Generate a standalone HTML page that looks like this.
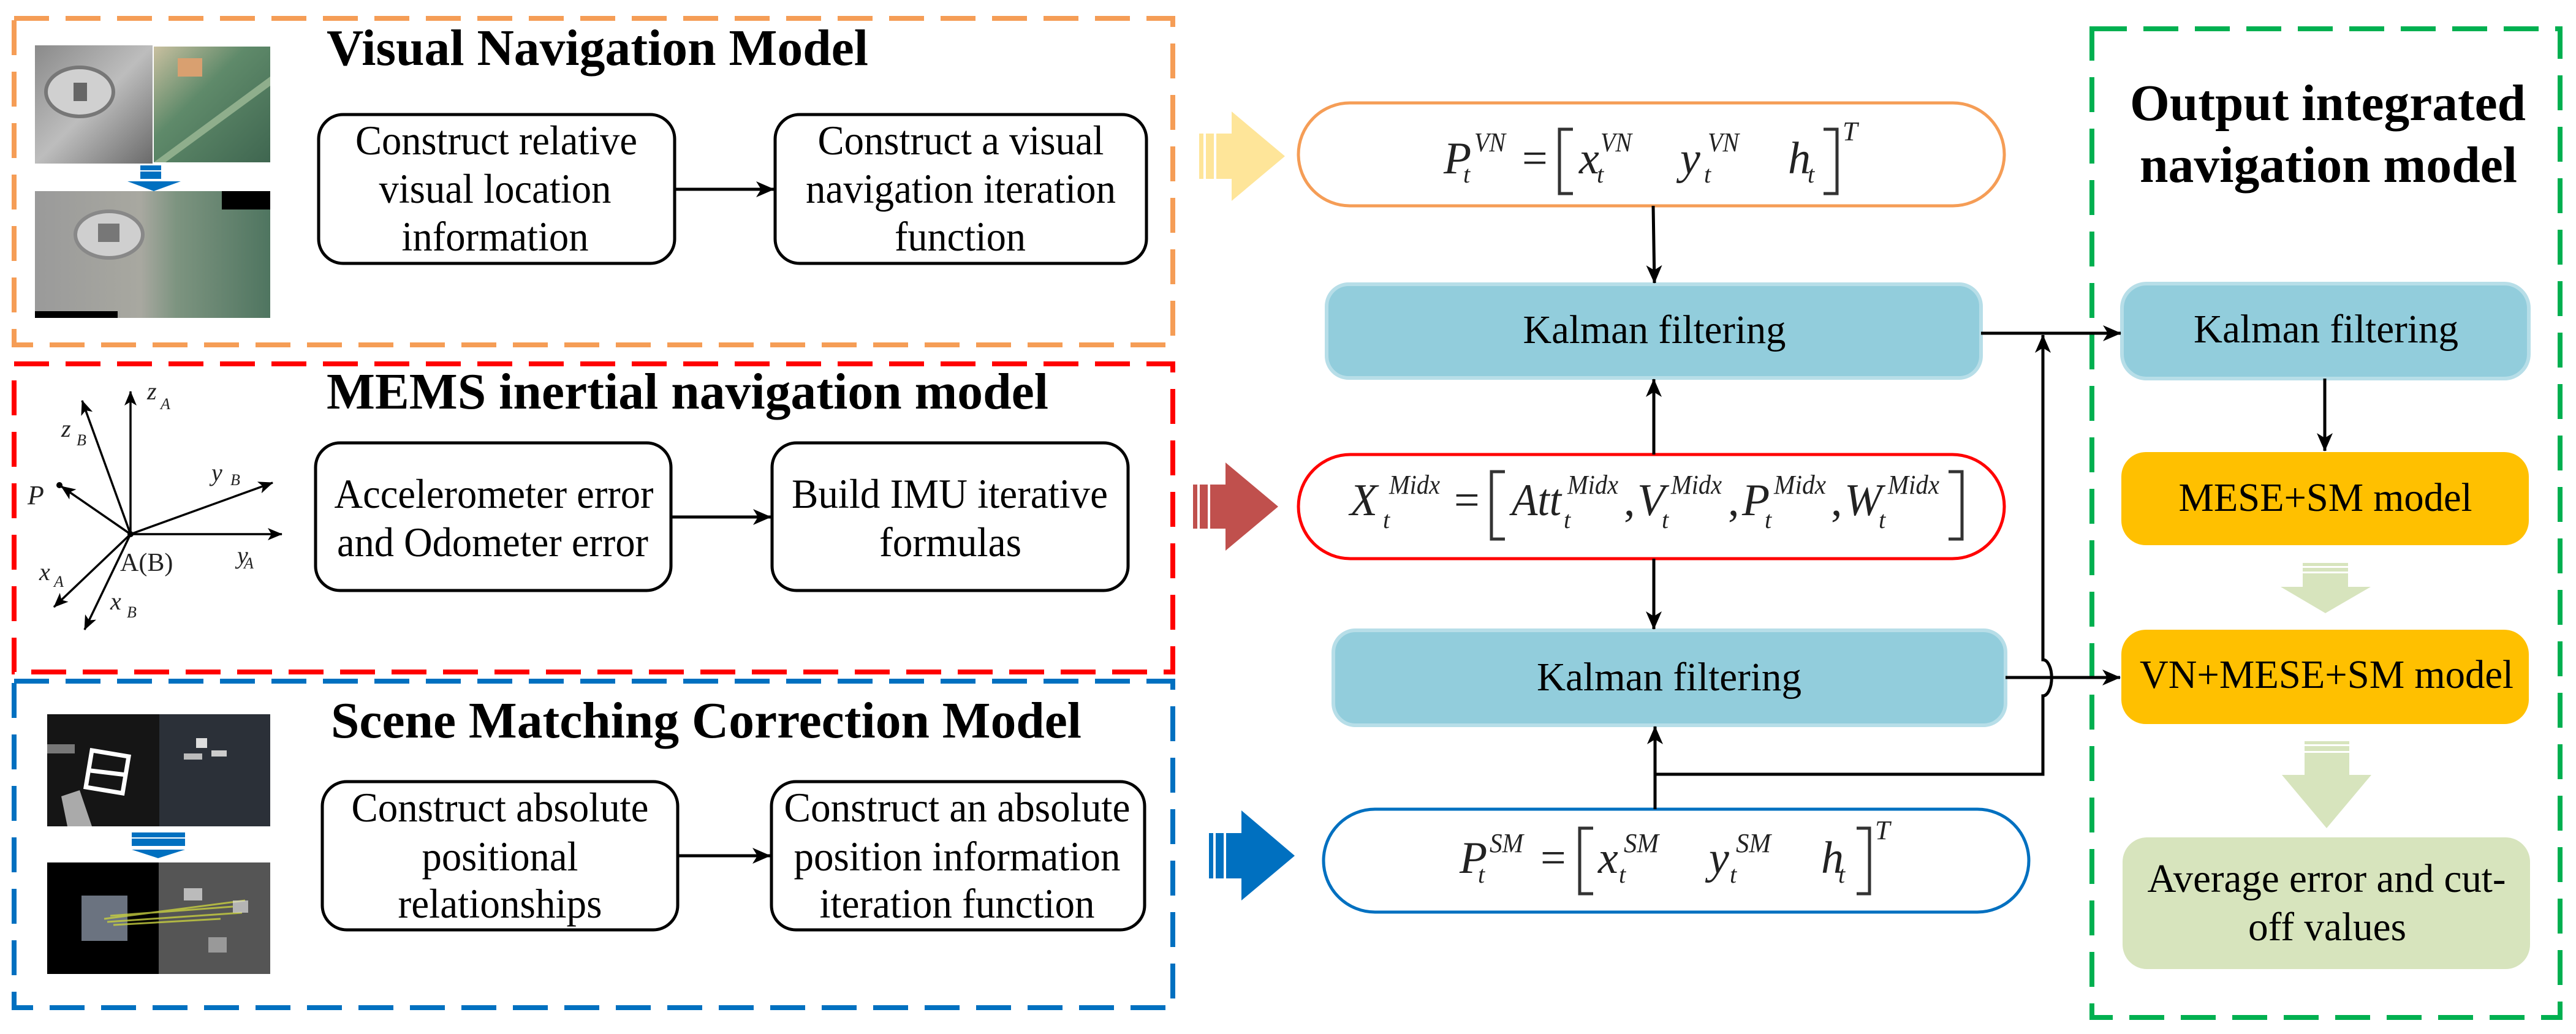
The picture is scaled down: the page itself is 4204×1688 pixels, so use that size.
<!DOCTYPE html>
<html><head><meta charset="utf-8"><style>html,body{margin:0;padding:0;background:#fff}svg{display:block}svg text{font-family:"Liberation Serif","DejaVu Serif",serif}</style></head>
<body>
<svg width="4204" height="1688" viewBox="0 0 4204 1688" xmlns="http://www.w3.org/2000/svg" font-family="Liberation Serif, serif">
<defs>
<marker id="ah" viewBox="0 0 30 26" refX="29" refY="13" markerWidth="30" markerHeight="26" markerUnits="userSpaceOnUse" orient="auto">
<path d="M0,0 L30,13 L0,26 L8,13 Z" fill="#000"/></marker>
<marker id="ahs" viewBox="0 0 24 20" refX="23" refY="10" markerWidth="24" markerHeight="20" markerUnits="userSpaceOnUse" orient="auto">
<path d="M0,0 L24,10 L0,20 L6,10 Z" fill="#000"/></marker>
<linearGradient id="g1" x1="0" y1="0" x2="1" y2="1"><stop offset="0" stop-color="#8a8a8a"/><stop offset="0.5" stop-color="#bdbdbd"/><stop offset="1" stop-color="#6a6a6a"/></linearGradient>
<linearGradient id="g2" x1="0" y1="0" x2="1" y2="1"><stop offset="0" stop-color="#c9c0a0"/><stop offset="0.4" stop-color="#5f8a6a"/><stop offset="1" stop-color="#3f6650"/></linearGradient>
<linearGradient id="g3" x1="0" y1="0" x2="1" y2="0"><stop offset="0" stop-color="#9a9a9a"/><stop offset="0.45" stop-color="#a8a8a0"/><stop offset="0.6" stop-color="#7d9480"/><stop offset="1" stop-color="#4f7560"/></linearGradient>
</defs>

<rect x="23" y="30" width="1891" height="533" fill="none" stroke="#f59d56" stroke-width="8" stroke-dasharray="57 27"/>
<rect x="23" y="594" width="1891" height="503" fill="none" stroke="#ff0000" stroke-width="8" stroke-dasharray="57 27"/>
<rect x="23" y="1112" width="1891" height="533" fill="none" stroke="#0070c0" stroke-width="8" stroke-dasharray="57 27"/>

<rect x="57" y="74" width="192" height="193" fill="url(#g1)"/>
<ellipse cx="130" cy="150" rx="55" ry="40" fill="#d0d0d0" stroke="#777" stroke-width="6"/>
<rect x="120" y="135" width="22" height="30" fill="#666"/>
<rect x="251" y="76" width="190" height="189" fill="url(#g2)"/>
<path d="M251,265 L441,125 L441,140 L270,265 Z" fill="#8fae8c"/>
<rect x="290" y="95" width="40" height="30" fill="#d9a070"/>
<rect x="229" y="270" width="34" height="8" fill="#0070c0"/><rect x="229" y="280" width="34" height="12" fill="#0070c0"/>
<path d="M208,296 L295,296 L251,312 Z" fill="#0070c0"/>
<rect x="57" y="312" width="384" height="207" fill="url(#g3)"/>
<rect x="362" y="312" width="79" height="30" fill="#000"/>
<rect x="57" y="508" width="135" height="11" fill="#000"/>
<ellipse cx="178" cy="383" rx="55" ry="38" fill="#cfcfcf" stroke="#888" stroke-width="6"/>
<rect x="160" y="365" width="35" height="30" fill="#777"/>

<rect x="77" y="1166" width="183" height="183" fill="#151515"/>
<path d="M150,1225 L210,1235 L200,1295 L140,1285 Z" fill="none" stroke="#fff" stroke-width="7"/>
<line x1="148" y1="1258" x2="206" y2="1265" stroke="#fff" stroke-width="7"/>
<path d="M100,1300 L130,1290 L150,1349 L110,1349 Z" fill="#aaa"/>
<rect x="77" y="1215" width="45" height="15" fill="#777"/>
<rect x="260" y="1166" width="181" height="183" fill="#2b3038"/>
<rect x="320" y="1205" width="18" height="16" fill="#ddd"/><rect x="300" y="1230" width="30" height="10" fill="#bbb"/><rect x="345" y="1225" width="25" height="10" fill="#ccc"/>
<rect x="215" y="1359" width="87" height="8" fill="#0070c0"/><rect x="215" y="1369" width="87" height="12" fill="#0070c0"/>
<path d="M215,1387 L302,1387 L258,1401 Z" fill="#0070c0"/>
<rect x="77" y="1408" width="364" height="182" fill="#000"/>
<rect x="259" y="1408" width="182" height="182" fill="#555"/>
<rect x="133" y="1462" width="75" height="74" fill="#6b7380"/>
<path d="M170,1500 L400,1470 M175,1505 L395,1490 M180,1495 L380,1480 M185,1510 L360,1500" stroke="#c8d040" stroke-width="3" opacity="0.8"/>
<rect x="300" y="1450" width="30" height="20" fill="#bbb"/><rect x="380" y="1470" width="25" height="20" fill="#ddd" opacity="0.7"/><rect x="340" y="1530" width="30" height="25" fill="#999"/>

<g font-weight="bold" font-size="84" fill="#000">
<text x="533" y="106" textLength="884" lengthAdjust="spacingAndGlyphs">Visual Navigation Model</text>
<text x="533" y="667" textLength="1178" lengthAdjust="spacingAndGlyphs">MEMS inertial navigation model</text>
<text x="540" y="1204" textLength="1225" lengthAdjust="spacingAndGlyphs">Scene Matching Correction Model</text>
<text x="3476" y="196" textLength="646" lengthAdjust="spacingAndGlyphs">Output integrated</text>
<text x="3492" y="297" textLength="616" lengthAdjust="spacingAndGlyphs">navigation model</text>
</g>

<g fill="#fff" stroke="#000" stroke-width="5">
<rect x="520" y="187" width="581" height="243" rx="40"/>
<rect x="1265" y="187" width="606" height="243" rx="40"/>
<rect x="515" y="723" width="580" height="241" rx="40"/>
<rect x="1260" y="723" width="581" height="241" rx="40"/>
<rect x="526" y="1276" width="580" height="242" rx="40"/>
<rect x="1259" y="1276" width="609" height="242" rx="40"/>
</g>
<g stroke="#000" stroke-width="5" fill="none">
<line x1="1101" y1="309" x2="1263" y2="309" marker-end="url(#ah)"/>
<line x1="1095" y1="844" x2="1258" y2="844" marker-end="url(#ah)"/>
<line x1="1106" y1="1397" x2="1257" y2="1397" marker-end="url(#ah)"/>
</g>
<g font-size="68" fill="#000" text-anchor="middle">
<text x="810" y="252" textLength="460" lengthAdjust="spacingAndGlyphs">Construct relative</text>
<text x="808" y="331" textLength="379" lengthAdjust="spacingAndGlyphs">visual location</text>
<text x="808" y="409" textLength="305" lengthAdjust="spacingAndGlyphs">information</text>
<text x="1568" y="252" textLength="467" lengthAdjust="spacingAndGlyphs">Construct a visual</text>
<text x="1568" y="331" textLength="506" lengthAdjust="spacingAndGlyphs">navigation iteration</text>
<text x="1567" y="409" textLength="214" lengthAdjust="spacingAndGlyphs">function</text>
<text x="806" y="829" textLength="521" lengthAdjust="spacingAndGlyphs">Accelerometer error</text>
<text x="804" y="908" textLength="508" lengthAdjust="spacingAndGlyphs">and Odometer error</text>
<text x="1550" y="829" textLength="516" lengthAdjust="spacingAndGlyphs">Build IMU iterative</text>
<text x="1551" y="908" textLength="232" lengthAdjust="spacingAndGlyphs">formulas</text>
<text x="816" y="1341" textLength="485" lengthAdjust="spacingAndGlyphs">Construct absolute</text>
<text x="816" y="1421" textLength="255" lengthAdjust="spacingAndGlyphs">positional</text>
<text x="816" y="1498" textLength="333" lengthAdjust="spacingAndGlyphs">relationships</text>
<text x="1562" y="1341" textLength="565" lengthAdjust="spacingAndGlyphs">Construct an absolute</text>
<text x="1562" y="1421" textLength="533" lengthAdjust="spacingAndGlyphs">position information</text>
<text x="1562" y="1498" textLength="449" lengthAdjust="spacingAndGlyphs">iteration function</text>
</g>

<g stroke="#000" stroke-width="3.5">
<line x1="213" y1="872" x2="213" y2="639" marker-end="url(#ahs)"/>
<line x1="213" y1="872" x2="134" y2="654" marker-end="url(#ahs)"/>
<line x1="213" y1="872" x2="100" y2="794" marker-end="url(#ahs)"/>
<line x1="213" y1="872" x2="445" y2="788" marker-end="url(#ahs)"/>
<line x1="213" y1="872" x2="460" y2="872" marker-end="url(#ahs)"/>
<line x1="213" y1="872" x2="88" y2="991" marker-end="url(#ahs)"/>
<line x1="213" y1="872" x2="138" y2="1028" marker-end="url(#ahs)"/>
</g>
<circle cx="97" cy="792" r="5" fill="#000"/><circle cx="213" cy="872" r="5" fill="#000"/>
<g font-style="italic" font-size="40" fill="#222">
<text x="240" y="652">z</text><text x="262" y="668" font-size="26">A</text>
<text x="100" y="713">z</text><text x="125" y="727" font-size="26">B</text>
<text x="345" y="785">y</text><text x="376" y="792" font-size="26">B</text>
<text x="387" y="920">y</text><text x="398" y="928" font-size="26">A</text>
<text x="45" y="823" font-size="44">P</text>
<text x="64" y="947">x</text><text x="88" y="958" font-size="26">A</text>
<text x="180" y="995">x</text><text x="207" y="1008" font-size="26">B</text>
</g>
<text x="196" y="932" font-size="42" fill="#222">A(B)</text>

<g fill="#fee599"><rect x="1957" y="218" width="7" height="74"/><rect x="1968" y="218" width="13" height="74"/><path d="M1985,218 L2010,218 L2010,182 L2097,255 L2010,328 L2010,292 L1985,292 Z"/></g>
<g fill="#c0504d"><rect x="1947" y="791" width="7" height="72"/><rect x="1958" y="791" width="13" height="72"/><path d="M1975,791 L2000,791 L2000,755 L2086,827 L2000,899 L2000,863 L1975,863 Z"/></g>
<g fill="#0070c0"><rect x="1973" y="1360" width="7" height="74"/><rect x="1984" y="1360" width="13" height="74"/><path d="M2001,1360 L2026,1360 L2026,1323 L2113,1397 L2026,1470 L2026,1434 L2001,1434 Z"/></g>

<rect x="2119" y="168" width="1152" height="168" rx="84" fill="#fff" stroke="#f59d56" stroke-width="5"/>
<rect x="2119" y="742" width="1152" height="170" rx="85" fill="#fff" stroke="#ff0000" stroke-width="5"/>
<rect x="2160" y="1321" width="1151" height="168" rx="84" fill="#fff" stroke="#0070c0" stroke-width="5"/>

<g fill="#92cddc" stroke="#b7dee8" stroke-width="6">
<rect x="2165" y="464" width="1068" height="153" rx="36"/>
<rect x="2176" y="1029" width="1097" height="155" rx="36"/>
<rect x="3463" y="463" width="664" height="155" rx="40"/>
</g>
<rect x="3462" y="738" width="665" height="152" rx="40" fill="#ffc000"/>
<rect x="3462" y="1028" width="665" height="154" rx="40" fill="#ffc000"/>
<rect x="3464" y="1367" width="665" height="215" rx="40" fill="#d7e4bd"/>
<g font-size="66" fill="#000" text-anchor="middle">
<text x="2700" y="560" textLength="429" lengthAdjust="spacingAndGlyphs">Kalman filtering</text>
<text x="2724" y="1127" textLength="432" lengthAdjust="spacingAndGlyphs">Kalman filtering</text>
<text x="3796" y="559" textLength="432" lengthAdjust="spacingAndGlyphs">Kalman filtering</text>
<text x="3795" y="834" textLength="479" lengthAdjust="spacingAndGlyphs">MESE+SM model</text>
<text x="3797" y="1123" textLength="610" lengthAdjust="spacingAndGlyphs">VN+MESE+SM model</text>
<text x="3797" y="1456" textLength="585" lengthAdjust="spacingAndGlyphs">Average error and cut-</text>
<text x="3798" y="1535" textLength="258" lengthAdjust="spacingAndGlyphs">off values</text>
</g>

<g fill="#d7e4bd">
<rect x="3758" y="919" width="74" height="5"/><rect x="3758" y="927" width="74" height="6"/><rect x="3758" y="936" width="74" height="22"/>
<path d="M3722,958 L3869,958 L3795,1001 Z"/>
<rect x="3761" y="1210" width="73" height="5"/><rect x="3761" y="1218" width="73" height="8"/><rect x="3761" y="1229" width="73" height="36"/>
<path d="M3724,1265 L3870,1265 L3797,1352 Z"/>
</g>

<rect x="3414" y="47" width="764" height="1614" fill="none" stroke="#00b050" stroke-width="8" stroke-dasharray="57 27"/>

<g stroke="#000" stroke-width="5" fill="none">
<line x1="2698" y1="336" x2="2700" y2="462" marker-end="url(#ah)"/>
<line x1="2699" y1="742" x2="2699" y2="619" marker-end="url(#ah)"/>
<line x1="2699" y1="912" x2="2699" y2="1027" marker-end="url(#ah)"/>
<line x1="2701" y1="1321" x2="2701" y2="1186" marker-end="url(#ah)"/>
<path d="M2701,1264 L3334,1264 L3334,1136 A14,29 0 0 0 3334,1077 L3334,547" marker-end="url(#ah)"/>
<line x1="3233" y1="544" x2="3461" y2="544" marker-end="url(#ah)"/>
<line x1="3273" y1="1106" x2="3460" y2="1106" marker-end="url(#ah)"/>
<line x1="3794" y1="618" x2="3794" y2="736" marker-end="url(#ah)"/>
</g>

<g font-style="italic" fill="#222" font-size="74">
<text x="2356" y="283">P</text><text x="2406" y="247" font-size="44" textLength="51" lengthAdjust="spacingAndGlyphs">VN</text><text x="2388" y="298" font-size="40">t</text>
<text x="2484" y="283" font-style="normal">=</text>
<text x="2577" y="283">x</text><text x="2612" y="247" font-size="44" textLength="51" lengthAdjust="spacingAndGlyphs">VN</text><text x="2606" y="298" font-size="40">t</text>
<text x="2742" y="283">y</text><text x="2787" y="247" font-size="44" textLength="51" lengthAdjust="spacingAndGlyphs">VN</text><text x="2781" y="298" font-size="40">t</text>
<text x="2918" y="283">h</text><text x="2950" y="298" font-size="40">t</text>
<text x="3007" y="229" font-size="44">T</text>
<text x="2203" y="841">X</text><text x="2267" y="806" font-size="44" textLength="83" lengthAdjust="spacingAndGlyphs">Midx</text><text x="2257" y="862" font-size="40">t</text>
<text x="2373" y="841" font-style="normal">=</text>
<text x="2467" y="841" textLength="81" lengthAdjust="spacingAndGlyphs">Att</text><text x="2558" y="806" font-size="44" textLength="83" lengthAdjust="spacingAndGlyphs">Midx</text><text x="2552" y="862" font-size="40">t</text>
<text x="2650" y="841" font-style="normal">,</text>
<text x="2672" y="841">V</text><text x="2727" y="806" font-size="44" textLength="83" lengthAdjust="spacingAndGlyphs">Midx</text><text x="2712" y="862" font-size="40">t</text>
<text x="2820" y="841" font-style="normal">,</text>
<text x="2843" y="841">P</text><text x="2895" y="806" font-size="44" textLength="85" lengthAdjust="spacingAndGlyphs">Midx</text><text x="2880" y="862" font-size="40">t</text>
<text x="2988" y="841" font-style="normal">,</text>
<text x="3010" y="841">W</text><text x="3081" y="806" font-size="44" textLength="84" lengthAdjust="spacingAndGlyphs">Midx</text><text x="3066" y="862" font-size="40">t</text>
<text x="2382" y="1425">P</text><text x="2431" y="1391" font-size="44" textLength="55" lengthAdjust="spacingAndGlyphs">SM</text><text x="2412" y="1441" font-size="40">t</text>
<text x="2514" y="1425" font-style="normal">=</text>
<text x="2608" y="1425">x</text><text x="2650" y="1391" font-size="44" textLength="57" lengthAdjust="spacingAndGlyphs">SM</text><text x="2642" y="1441" font-size="40">t</text>
<text x="2789" y="1425">y</text><text x="2833" y="1391" font-size="44" textLength="57" lengthAdjust="spacingAndGlyphs">SM</text><text x="2823" y="1441" font-size="40">t</text>
<text x="2972" y="1425">h</text><text x="3000" y="1441" font-size="40">t</text>
<text x="3060" y="1370" font-size="44">T</text>
</g>
<g stroke="#333" stroke-width="5" fill="none">
<path d="M2567,211 L2545,211 L2545,316 L2567,316"/><path d="M2976,211 L2998,211 L2998,316 L2976,316"/>
<path d="M2456,770 L2434,770 L2434,880 L2456,880"/><path d="M3180,770 L3202,770 L3202,880 L3180,880"/>
<path d="M2600,1352 L2578,1352 L2578,1459 L2600,1459"/><path d="M3030,1352 L3051,1352 L3051,1459 L3030,1459"/>
</g>
</svg>
</body></html>
